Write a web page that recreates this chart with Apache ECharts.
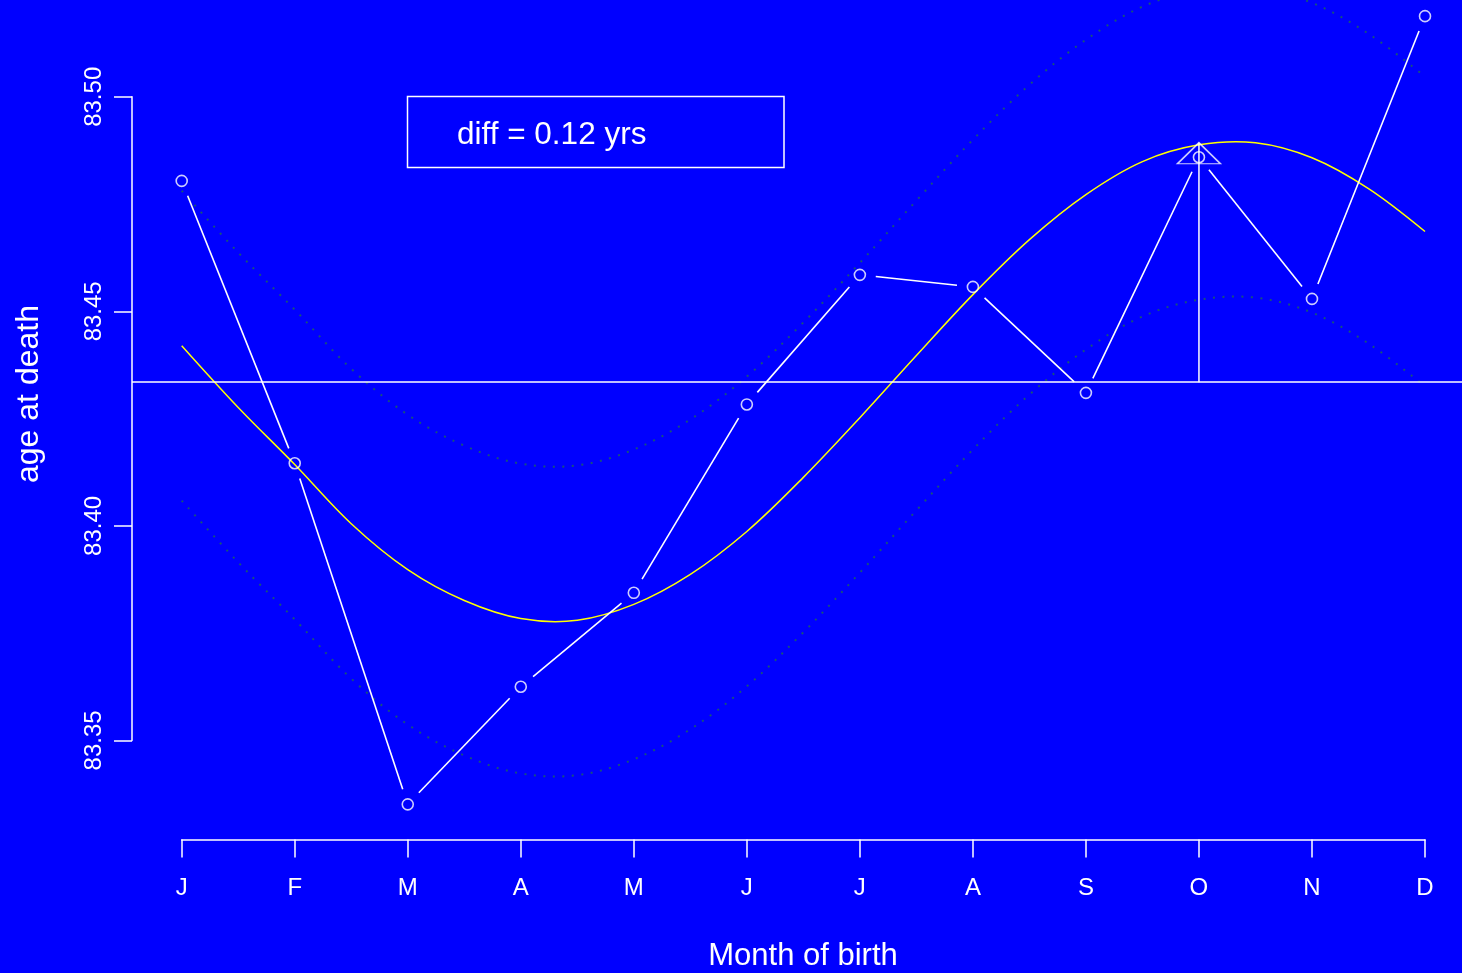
<!DOCTYPE html>
<html>
<head>
<meta charset="utf-8">
<script src="https://cdn.jsdelivr.net/npm/echarts@6/dist/echarts.min.js"></script>
<style>
  html, body { margin: 0; padding: 0; background: #0000ff; }
  #chart { width: 1462px; height: 973px; }
</style>
</head>
<body>
<div id="chart"></div>
<script>
// Month of birth and mean age at death
const monthLabels = ['J', 'F', 'M', 'A', 'M', 'J', 'J', 'A', 'S', 'O', 'N', 'D'];
const monthIndex = [1, 2, 3, 4, 5, 6, 7, 8, 9, 10, 11, 12];
const ageAtDeath = [83.4804, 83.4146, 83.3351, 83.3625, 83.3844, 83.4283,
                    83.4585, 83.4557, 83.4310, 83.4859, 83.4529, 83.5188];

// Overall mean
const meanAge = 83.4335;

// Seasonal fit, sampled every half month, with its band
const fitMonths = [1, 1.5, 2, 2.5, 3, 3.5, 4, 4.5, 5, 5.5, 6, 6.5,
                   7, 7.5, 8, 8.5, 9, 9.5, 10, 10.5, 11, 11.5, 12];
const fitValues = [83.4420, 83.4276, 83.4143, 83.4005, 83.3898, 83.3826, 83.3784, 83.3780,
                   83.3817, 83.3887, 83.3987, 83.4113, 83.4252, 83.4397, 83.4539, 83.4667,
                   83.4772, 83.4849, 83.4888, 83.4893, 83.4858, 83.4786, 83.4686];
const bandUpper = [83.4781, 83.4637, 83.4504, 83.4366, 83.4259, 83.4187, 83.4145, 83.4141,
                   83.4178, 83.4248, 83.4348, 83.4474, 83.4613, 83.4758, 83.4900, 83.5028,
                   83.5133, 83.5210, 83.5249, 83.5254, 83.5219, 83.5147, 83.5047];
const bandLower = [83.4059, 83.3915, 83.3782, 83.3644, 83.3537, 83.3465, 83.3423, 83.3419,
                   83.3456, 83.3526, 83.3626, 83.3752, 83.3891, 83.4036, 83.4178, 83.4306,
                   83.4411, 83.4488, 83.4527, 83.4532, 83.4497, 83.4425, 83.4325];

// Peak of the fit, marked at October
const peakMonth = 10;
const peakValue = 83.4893;
const diffText = 'diff = 0.12 yrs';

const yTicks = { min: 83.35, max: 83.50, step: 0.05 };

const FONT = '"Liberation Sans", Arial, sans-serif';
const pairs = (xs, ys) => xs.map((x, i) => [x, ys[i]]);

const segments = [];
for (let i = 0; i < monthIndex.length - 1; i++) {
  segments.push([monthIndex[i], ageAtDeath[i], monthIndex[i + 1], ageAtDeath[i + 1]]);
}

// A smooth curve through the given points, placed with the plot's own axes
function curveSeries(name, xs, ys, style, z) {
  return {
    name: name, type: 'custom', xAxisIndex: 0, yAxisIndex: 0, clip: true, z: z,
    data: pairs(xs, ys).slice(0, 1),
    renderItem: (params, api) => ({
      type: 'polyline',
      shape: { points: xs.map((x, i) => api.coord([x, ys[i]])), smooth: 0.35 },
      style: Object.assign({ fill: 'none' }, style)
    })
  };
}

const chart = echarts.init(document.getElementById('chart'), null, { renderer: 'canvas' });

const hiddenAxis = {
  show: false, axisLine: { show: false }, axisTick: { show: false },
  axisLabel: { show: false }, splitLine: { show: false }
};

const bandStyle = { stroke: '#16507e', lineWidth: 2, lineDash: [2, 7.5] };

chart.setOption({
  backgroundColor: '#0000ff',
  animation: false,
  grid: [
    // plotting area
    { left: 132, right: 0, top: 0, bottom: 133 },
    // y axis
    { left: 132, width: 10, top: 96.8, bottom: 232.6 },
    // x axis
    { left: 181.7, right: 37, bottom: 133.5, height: 10 }
  ],
  xAxis: [
    Object.assign({ type: 'value', gridIndex: 0, min: 0.5603, max: 12.3273 }, hiddenAxis),
    Object.assign({ type: 'value', gridIndex: 1, min: 0, max: 1 }, hiddenAxis),
    {
      type: 'value', gridIndex: 2, position: 'bottom',
      min: 1, max: 12, interval: 1,
      axisLine: { show: true, lineStyle: { color: '#ffffff', width: 1.5 } },
      axisTick: { show: true, inside: false, length: 18, lineStyle: { color: '#ffffff', width: 1.5 } },
      axisLabel: {
        show: true, color: '#ffffff', fontFamily: FONT, fontSize: 24, margin: 37,
        formatter: v => monthLabels[Math.round(v) - 1] || ''
      },
      splitLine: { show: false }
    }
  ],
  yAxis: [
    Object.assign({ type: 'value', gridIndex: 0, min: 83.32679, max: 83.52256 }, hiddenAxis),
    {
      type: 'value', gridIndex: 1, position: 'left',
      min: yTicks.min, max: yTicks.max, interval: yTicks.step,
      axisLine: { show: true, lineStyle: { color: '#ffffff', width: 1.5 } },
      axisTick: { show: true, inside: false, length: 18, lineStyle: { color: '#ffffff', width: 1.5 } },
      axisLabel: {
        show: true, color: '#ffffff', fontFamily: FONT, fontSize: 24, margin: 26, rotate: 90,
        formatter: v => v.toFixed(2)
      },
      splitLine: { show: false }
    },
    Object.assign({ type: 'value', gridIndex: 2, min: 0, max: 1 }, hiddenAxis)
  ],
  series: [
    curveSeries('band upper', fitMonths, bandUpper, bandStyle, 2),
    curveSeries('band lower', fitMonths, bandLower, bandStyle, 2),
    {
      name: 'mean', type: 'line', xAxisIndex: 0, yAxisIndex: 0,
      data: [[peakMonth, meanAge]], symbol: 'none', lineStyle: { width: 0 }, z: 3,
      markLine: {
        silent: true, symbol: 'none', precision: 6, label: { show: false },
        lineStyle: { color: '#ffffff', width: 1.5, type: 'solid' },
        data: [{ yAxis: meanAge }]
      }
    },
    curveSeries('fit', fitMonths, fitValues, { stroke: '#ffff00', lineWidth: 1.5 }, 4),
    {
      name: 'peak stem', type: 'line', xAxisIndex: 0, yAxisIndex: 0,
      data: [[peakMonth, meanAge], [peakMonth, peakValue]], symbol: 'none',
      lineStyle: { color: '#ffffff', width: 1.5 }, z: 5
    },
    {
      name: 'peak', type: 'scatter', xAxisIndex: 0, yAxisIndex: 0,
      data: [[peakMonth, peakValue]],
      symbol: 'path://M21.5,0 L43,21 L0,21 Z', symbolSize: [43, 21], symbolOffset: [0, 10.5],
      itemStyle: { color: 'rgba(0,0,0,0)', borderColor: '#ffffff', borderWidth: 1.5 }, z: 6
    },
    {
      name: 'links', type: 'custom', xAxisIndex: 0, yAxisIndex: 0,
      data: segments, encode: { x: [0, 2], y: [1, 3] },
      renderItem: (params, api) => {
        const a = api.coord([api.value(0), api.value(1)]);
        const b = api.coord([api.value(2), api.value(3)]);
        const dx = b[0] - a[0], dy = b[1] - a[1];
        const len = Math.hypot(dx, dy);
        const gap = 16;
        if (len <= 2 * gap) return null;
        const ux = dx / len, uy = dy / len;
        return {
          type: 'line',
          shape: { x1: a[0] + ux * gap, y1: a[1] + uy * gap, x2: b[0] - ux * gap, y2: b[1] - uy * gap },
          style: { stroke: '#ffffff', lineWidth: 1.6 }
        };
      }, z: 6
    },
    {
      name: 'age', type: 'scatter', xAxisIndex: 0, yAxisIndex: 0,
      data: pairs(monthIndex, ageAtDeath), symbol: 'circle', symbolSize: 11,
      itemStyle: { color: 'rgba(0,0,0,0)', borderColor: '#ffffff', borderWidth: 1.6 }, z: 7
    }
  ],
  graphic: [
    {
      type: 'rect', shape: { x: 407.5, y: 96.5, width: 376.5, height: 71 },
      style: { fill: 'none', stroke: '#ffffff', lineWidth: 1.5 }
    },
    {
      type: 'text', x: 457, y: 135,
      style: { text: diffText, fill: '#ffffff', font: '31.5px ' + FONT, textAlign: 'left', textVerticalAlign: 'middle' }
    },
    {
      type: 'text', x: 29, y: 394, rotation: Math.PI / 2,
      style: { text: 'age at death', fill: '#ffffff', font: '32px ' + FONT, textAlign: 'center', textVerticalAlign: 'middle' }
    },
    {
      type: 'text', x: 803, y: 956,
      style: { text: 'Month of birth', fill: '#ffffff', font: '31px ' + FONT, textAlign: 'center', textVerticalAlign: 'middle' }
    }
  ]
});
</script>
</body>
</html>
